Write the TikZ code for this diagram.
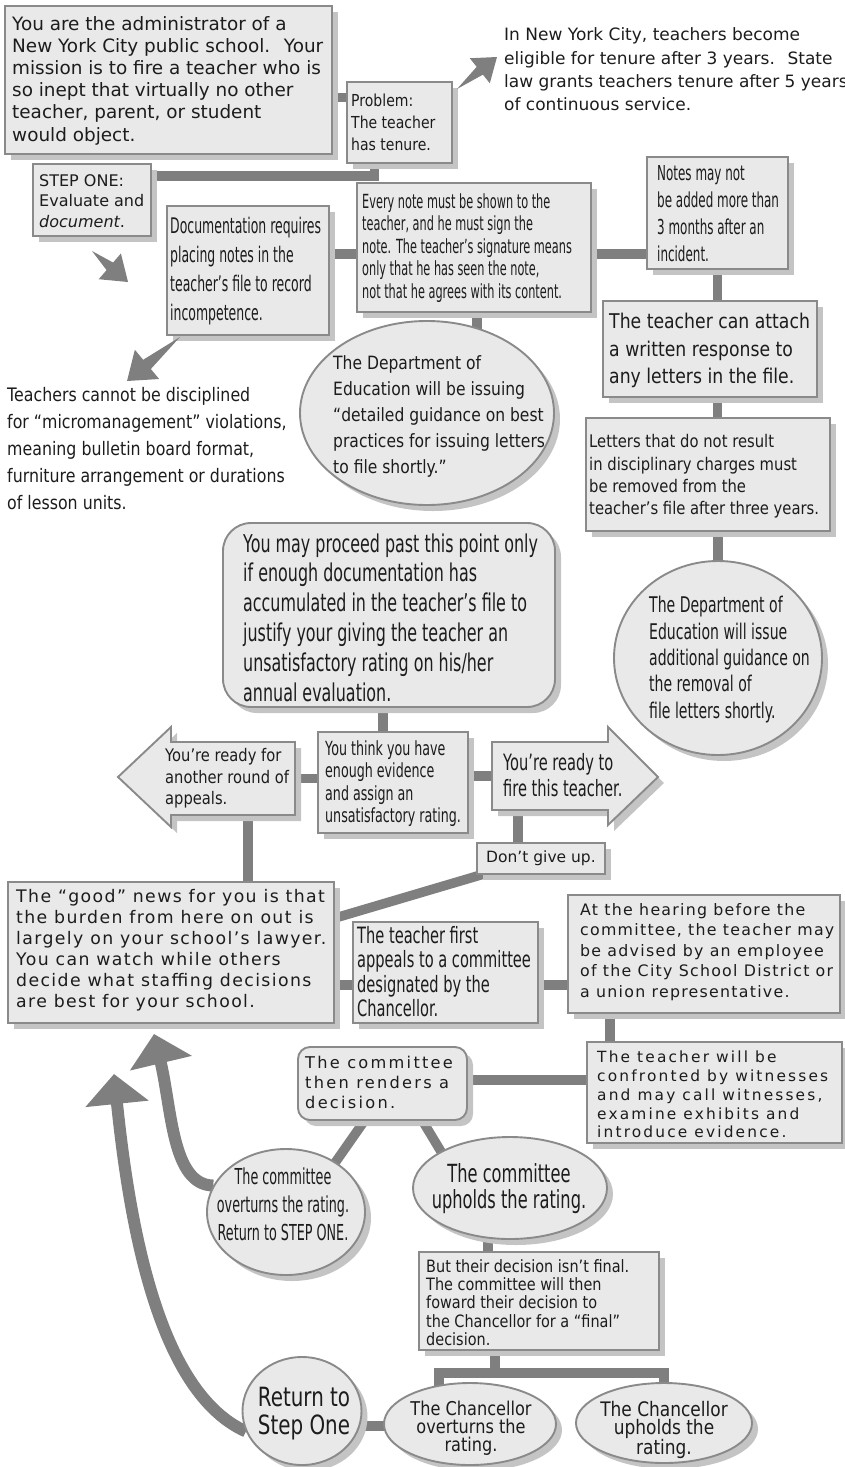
\documentclass[tikz,border=0pt]{standalone}
\usepackage{fontspec}
\setmainfont{DejaVu Sans}
\newfontfamily\fA{DejaVu Sans}
\newfontfamily\fB[FakeStretch=0.85]{DejaVu Sans}
\newfontfamily\fC[FakeStretch=0.75]{DejaVu Sans}
\newfontfamily\fD[FakeStretch=0.65]{DejaVu Sans}
\newfontfamily\fE[FakeStretch=0.58]{DejaVu Sans}
\newfontfamily\fS[LetterSpace=8]{DejaVu Sans}
\newfontfamily\fW[LetterSpace=14]{DejaVu Sans}
\usetikzlibrary{shapes.geometric,shadows,calc,arrows.meta}
\definecolor{boxfill}{HTML}{E9E9EA}
\definecolor{boxline}{HTML}{8A8A8A}
\definecolor{shadowc}{HTML}{C4C4C4}
\definecolor{connc}{HTML}{7F7F80}
\definecolor{textc}{HTML}{1C1C1C}
\pgfdeclarelayer{background}
\pgfsetlayers{background,main}
\newcommand\fsz[2]{\fontsize{#1}{#2}\selectfont}
\newcommand\blkarrow[5]{%
  \coordinate (hb) at ($(#2)!#3!(#1)$);
  \coordinate (hl) at ($(hb)!#4!90:(#2)$);
  \coordinate (hr) at ($(hb)!#4!-90:(#2)$);
  \coordinate (sl) at ($(hb)!#5!90:(#2)$);
  \coordinate (sr) at ($(hb)!#5!-90:(#2)$);
  \fill[connc] (#1) -- (sl) -- (hl) -- (#2) -- (hr) -- (sr) -- cycle;}
\tikzset{
  shad/.style={drop shadow={shadow xshift=6pt,shadow yshift=-6pt,fill=shadowc,opacity=1}},
  box/.style={rectangle,draw=boxline,line width=1.9pt,fill=boxfill,inner sep=0pt,shad},
  oval/.style={ellipse,draw=boxline,line width=1.9pt,fill=boxfill,inner sep=0pt,shad},
  txt/.style={inner sep=0pt,align=left,anchor=west,text=textc},
  ctxt/.style={inner sep=0pt,align=center,text=textc},
  conn/.style={draw=connc,line width=9.5pt,line join=miter},
  bigarr/.style={draw=connc,line width=12pt,-{Triangle[length=30pt 0 0,width=62pt 0 0]}},
  hidden/.style={rectangle,inner sep=0pt},
}
\begin{document}
\begin{tikzpicture}[x=1pt,y=-1pt]
\useasboundingbox (0,0) rectangle (845,1467);

% ---------- boxes ----------
\node[box,minimum width=327,minimum height=148] (intro) at (168.5,80) {};
\node[box,minimum width=105,minimum height=81] (problem) at (399.5,122.5) {};
\node[box,minimum width=118,minimum height=72] (stepone) at (92,200) {};
\node[box,minimum width=162,minimum height=129] (docreq) at (248,270.5) {};
\node[box,minimum width=234,minimum height=129] (everynote) at (474,247.5) {};
\node[box,minimum width=141,minimum height=112] (notesmay) at (717.5,213) {};
\node[box,minimum width=214,minimum height=96] (attach) at (710,349) {};
\node[box,minimum width=244,minimum height=113] (letters) at (708,474.5) {};
\node[oval,minimum width=254,minimum height=184] (doe1) at (427,413) {};
\node[oval,minimum width=208,minimum height=194] (doe2) at (718,658) {};
\node[box,rounded corners=28pt,minimum width=332,minimum height=184] (proceed) at (389,615) {};
\node[box,minimum width=150,minimum height=101] (middle) at (393,782.5) {};
\node[hidden,minimum width=124,minimum height=73] (readyfor) at (233,778.5) {};
\node[hidden,minimum width=116,minimum height=68] (fire) at (550,776) {};
\node[box,minimum width=128,minimum height=31] (dontgive) at (541,858.5) {};
\node[box,minimum width=326,minimum height=141] (goodnews) at (171,952.5) {};
\node[box,minimum width=185,minimum height=101] (firstappeals) at (445.5,972.5) {};
\node[box,minimum width=272,minimum height=118] (hearing) at (704,954) {};
\node[box,minimum width=255,minimum height=101] (confronted) at (714.5,1092.5) {};
\node[box,rounded corners=12pt,minimum width=169,minimum height=73] (committee) at (382.5,1083.5) {};
\node[oval,minimum width=158,minimum height=126] (overturns) at (286,1212) {};
\node[oval,minimum width=194,minimum height=102] (upholds) at (510,1188) {};
\node[box,minimum width=240,minimum height=98] (butfinal) at (539,1301) {};
\node[oval,minimum width=172,minimum height=82] (chanover) at (470,1424) {};
\node[oval,minimum width=176,minimum height=80] (chanup) at (664,1423) {};
\node[oval,minimum width=119,minimum height=108] (returnone) at (302,1411) {};

% ---------- block arrows (left / right) ----------
\fill[shadowc,shift={(6,6)}] (118,777) -- (171,727) -- (171,742) -- (295,742) -- (295,815) -- (171,815) -- (171,827) -- cycle;
\filldraw[draw=boxline,fill=boxfill,line width=1.9pt,line join=miter] (118,777) -- (171,727) -- (171,742) -- (295,742) -- (295,815) -- (171,815) -- (171,827) -- cycle;
\fill[shadowc,shift={(6,6)}] (492,742) -- (608,742) -- (608,727) -- (658,777) -- (608,825) -- (608,810) -- (492,810) -- cycle;
\filldraw[draw=boxline,fill=boxfill,line width=1.9pt,line join=miter] (492,742) -- (608,742) -- (608,727) -- (658,777) -- (608,825) -- (608,810) -- (492,810) -- cycle;

% ---------- texts ----------
\node[txt,font=\fA\fsz{18.4}{22.2}] (introt) at (12,80.5) {You are the administrator of a\\New York City public school.~ Your\\mission is to fire a teacher who is\\so inept that virtually no other\\teacher, parent, or student\\would object.};
\node[txt,font=\fB\fsz{16.5}{22}] (problemt) at (351,122) {Problem:\\The teacher\\has tenure.};
\node[txt,font=\fA\fsz{17}{23.3}] (tenuret) at (504,69.5) {In New York City, teachers become\\eligible for tenure after 3 years.~ State\\law grants teachers tenure after 5 years\\of continuous service.};
\node[txt,font=\fA\fsz{16}{20.5}] (steponet) at (39,201) {STEP ONE:\\Evaluate and\\\textit{document}.};
\node[txt,font=\fE\fsz{21.5}{29}] (docreqt) at (170,271.5) {Documentation requires\\placing notes in the\\teacher’s file to record\\incompetence.};
\node[txt,font=\fE\fsz{19.5}{22.6}] (everynotet) at (362,248) {Every note must be shown to the\\teacher, and he must sign the\\note. The teacher’s signature means\\only that he has seen the note,\\not that he agrees with its content.};
\node[txt,font=\fE\fsz{20.6}{27}] (notesmayt) at (657,213.5) {Notes may not\\be added more than\\3 months after an\\incident.};
\node[txt,font=\fB\fsz{20.3}{27.5}] (attacht) at (609,350.5) {The teacher can attach\\a written response to\\any letters in the file.};
\node[txt,font=\fB\fsz{17.4}{22.4}] (letterst) at (589,476.5) {Letters that do not result\\in disciplinary charges must\\be removed from the\\teacher’s file after three years.};
\node[txt,font=\fB\fsz{18.3}{25.8}] (doe1t) at (333,416.5) {The Department of\\Education will be issuing\\“detailed guidance on best\\practices for issuing letters\\to file shortly.”};
\node[txt,font=\fD\fsz{21.6}{26.3}] (doe2t) at (649,659.5) {The Department of\\Education will issue\\additional guidance on\\the removal of\\file letters shortly.};
\node[txt,font=\fB\fsz{18.6}{26.8}] (microt) at (7,448.5) {Teachers cannot be disciplined\\for “micromanagement” violations,\\meaning bulletin board format,\\furniture arrangement or durations\\of lesson units.};
\node[txt,font=\fD\fsz{24.5}{29.8}] (proceedt) at (243,617.5) {You may proceed past this point only\\if enough documentation has\\accumulated in the teacher’s file to\\justify your giving the teacher an\\unsatisfactory rating on his/her\\annual evaluation.};
\node[txt,font=\fD\fsz{19.5}{22.3}] (middlet) at (325,783.5) {You think you have\\enough evidence\\and assign an\\unsatisfactory rating.};
\node[txt,font=\fB\fsz{17.3}{21.5}] (readyfort) at (165,778.5) {You’re ready for\\another round of\\appeals.};
\node[txt,font=\fD\fsz{22.5}{26}] (firet) at (503,775) {You’re ready to\\fire this teacher.};
\node[txt,font=\fA\fsz{15.5}{19}] (dontgivet) at (486,858) {Don’t give up.};
\node[txt,font=\fS\fsz{17.3}{21}] (goodnewst) at (16,950.5) {The “good” news for you is that\\the burden from here on out is\\largely on your school’s lawyer.\\You can watch while others\\decide what staffing decisions\\are best for your school.};
\node[txt,font=\fD\fsz{22.5}{24.5}] (firstappealst) at (357,971.5) {The teacher first\\appeals to a committee\\designated by the\\Chancellor.};
\node[txt,font=\fS\fsz{15.8}{20.5}] (hearingt) at (580,952) {At the hearing before the\\committee, the teacher may\\be advised by an employee\\of the City School District or\\a union representative.};
\node[txt,font=\fW\fsz{15.4}{18.8}] (confrontedt) at (597,1094.5) {The teacher will be\\confronted by witnesses\\and may call witnesses,\\examine exhibits and\\introduce evidence.};
\node[txt,font=\fW\fsz{16.2}{20}] (committeet) at (305,1082) {The committee\\then renders a\\decision.};
\node[ctxt,font=\fE\fsz{22}{28}] (overturnst) at (283,1204) {The committee\\overturns the rating.\\Return to STEP ONE.};
\node[ctxt,font=\fD\fsz{25}{26}] (upholdst) at (509,1189) {The committee\\upholds the rating.};
\node[txt,font=\fB\fsz{17}{18.3}] (butfinalt) at (426,1302.5) {But their decision isn’t final.\\The committee will then\\foward their decision to\\the Chancellor for a “final”\\decision.};
\node[ctxt,font=\fB\fsz{19}{18}] (chanovert) at (471,1428) {The Chancellor\\overturns the\\rating.};
\node[ctxt,font=\fB\fsz{20}{18}] (chanupt) at (664,1430) {The Chancellor\\upholds the\\rating.};
\node[ctxt,font=\fC\fsz{26.5}{28}] (returnonet) at (304,1414) {Return to\\Step One};

% ---------- small block arrows ----------
\coordinate (a1s) at (457,89);  \coordinate (a1e) at (497,57);
\coordinate (a2s) at (92,251);  \coordinate (a2e) at (128,282);
\coordinate (a3s) at (180,337); \coordinate (a3e) at (127,381);
\blkarrow{a1s}{a1e}{22pt}{16pt}{5pt}
\blkarrow{a2s}{a2e}{24pt}{17pt}{5pt}
\blkarrow{a3s}{a3e}{26pt}{19pt}{6pt}

% ---------- connectors ----------
\begin{pgfonlayer}{background}
\coordinate (k1) at ([yshift=-17.5pt]intro.east);
\draw[conn] (k1) -- (k1 -| problem.center);
\coordinate (k2) at ([yshift=24pt]stepone.east);
\draw[conn] (k2) -| ([xshift=-25pt]problem.center);
\coordinate (k3) at ([yshift=16.5pt]docreq.east);
\draw[conn] (k3) -- (k3 -| everynote.center);
\coordinate (k4) at ([yshift=-6.5pt]everynote.east);
\draw[conn] (k4) -- (k4 -| notesmay.center);
\draw[conn] (notesmay.center) -- (notesmay.center |- attach.center);
\draw[conn] (attach.center -| notesmay.center) -- (letters.center -| notesmay.center);
\draw[conn] (letters.center -| doe2.center) -- (doe2.center);
\coordinate (k8) at ([xshift=3pt]everynote.center);
\draw[conn] (k8) -- (k8 |- doe1.center);
\coordinate (k9) at ([xshift=-10pt]middle.center);
\draw[conn] (k9) -- (k9 |- proceed.center);
\draw[conn] (readyfor.center) -- (readyfor.center -| middle.center);
\draw[conn] (fire.center) -- (fire.center -| middle.center);
\coordinate (k12) at ([xshift=-32pt]fire.center);
\draw[conn] (k12) -- (k12 |- dontgive.center);
\coordinate (k13) at ([xshift=15pt]readyfor.center);
\draw[conn] (k13) -- (k13 |- goodnews.center);
\draw[conn] ([xshift=-15pt,yshift=30pt]goodnews.east) -- ([xshift=25pt,yshift=6pt]dontgive.south west);
\coordinate (k15) at ([yshift=-32.5pt]goodnews.east);
\draw[conn] (k15) -- (k15 -| firstappeals.center);
\coordinate (k16) at ([yshift=-12.5pt]firstappeals.east);
\draw[conn] (k16) -- (k16 -| hearing.center);
\coordinate (k17) at ([xshift=-94pt]hearing.center);
\draw[conn] (k17) -- (k17 |- confronted.center);
\coordinate (k18) at ([yshift=3.5pt]committee.center);
\draw[conn] (k18) -- (k18 -| confronted.center);
\draw[conn] ([xshift=8pt]committee.center) -- ([xshift=14.6pt]overturns.center);
\draw[conn] ([xshift=17.5pt]committee.center) -- ([xshift=-47pt]upholds.center);
\coordinate (k21) at ([xshift=-22pt]upholds.center);
\draw[conn] (k21) -- (k21 |- butfinal.center);
\coordinate (split) at ([xshift=-44pt,yshift=-22pt]butfinal.south);
\draw[conn] (split |- butfinal.center) -- (split);
\draw[conn] ([xshift=-31pt]chanover.center) |- (split) -| (chanup.center);
\coordinate (k23) at ([yshift=-15pt]returnone.center);
\draw[conn] (k23) -- (k23 -| chanover.center);
\draw[bigarr] (overturns.160) .. controls (172,1185) and (172,1110) .. (154,1034);
\draw[bigarr] (returnone.200) .. controls (165,1395) and (132,1250) .. (114,1074);
\end{pgfonlayer}
\end{tikzpicture}
\end{document}
